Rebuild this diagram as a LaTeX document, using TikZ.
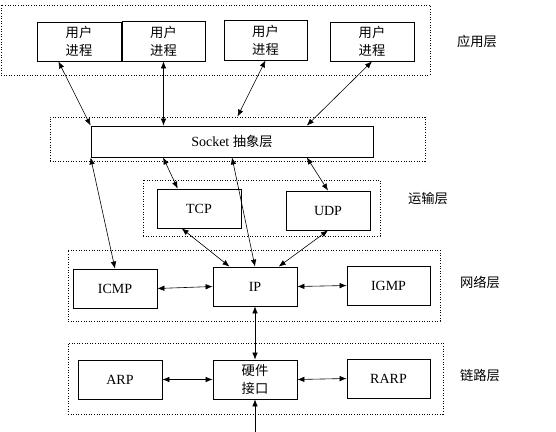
\documentclass[tikz,border=0pt]{standalone}
\usepackage{fontspec}
\setmainfont{Liberation Serif}
\newfontfamily\cjk[Scale=0.95]{Noto Sans CJK SC}
\usepackage{tikz}
\usetikzlibrary{positioning,arrows.meta,calc}

\begin{document}
\begin{tikzpicture}[
  x=1pt, y=-1pt,
  font=\fontsize{14}{18}\selectfont,
  box/.style={draw, line width=0.8pt, minimum width=84pt, minimum height=39pt, inner sep=1pt, align=center},
  layer/.style={draw, line width=0.8pt, dash pattern=on 1pt off 1.6pt},
  arr/.style={{Latex[length=7pt,width=5.5pt]}-{Latex[length=7pt,width=5.5pt]}, line width=0.6pt},
]
\useasboundingbox (0,0) rectangle (556,431);
% layer frames
\node[layer, minimum width=429pt, minimum height=70pt] (applayer) at (215.5,40) {};
\node[layer, minimum width=375pt, minimum height=44pt] (socklayer) at (237.5,139) {};
\node[layer, minimum width=237pt, minimum height=56pt] (translayer) at (261.5,208) {};
\node[layer, minimum width=372pt, minimum height=71pt] (netlayer) at (254,285.5) {};
\node[layer, minimum width=375pt, minimum height=71pt] (linklayer) at (255.5,378.5) {};
% layer names
\node (appname) at (477,41) {\cjk 应用层};
\node (transname) at (428,198) {\cjk 运输层};
\node (netname) at (480,282) {\cjk 网络层};
\node (linkname) at (480,375) {\cjk 链路层};
% user processes
\node[box] (up1) at (79,41.5) {\cjk 用户\\\cjk 进程};
\node[box, minimum width=83pt, minimum height=40pt] (up2) at (163.5,41) {\cjk 用户\\\cjk 进程};
\node[box, minimum width=83pt, minimum height=40pt] (up3) at (265.5,40) {\cjk 用户\\\cjk 进程};
\node[box] (up4) at (372,41.5) {\cjk 用户\\\cjk 进程};
% socket
\node[box, minimum width=282pt, minimum height=31pt] (socket) at (232,141.5) {Socket {\cjk 抽象层}};
% transport
\node[box] (tcp) at (199,208.5) {TCP};
\node[box] (udp) at (328,210.5) {UDP};
% network
\node[box] (icmp) at (115,288.5) {ICMP};
\node[box] (ip) at (255,286.5) {IP};
\node[box, minimum width=83pt] (igmp) at (388.5,285.5) {IGMP};
% link
\node[box] (arp) at (120,379.5) {ARP};
\node[box] (hw) at (255,379.5) {\cjk 硬件\\\cjk 接口};
\node[box, minimum width=83pt] (rarp) at (388.5,378.5) {RARP};
\coordinate (wire) at (255,433);
% connectors
\draw[arr] (socket.north west) -- (up1.-136);
\draw[arr] (up2.south |- socket.north) -- (up2.south);
\draw[arr] (socklayer.north) -- (up3.south);
\draw[arr] (socket.12) -- (up4.south);
\draw[arr] (socket.south west) -- (icmp.north);
\draw[arr] (socket.-167.5) -- (tcp.137);
\draw[arr] (socket.south) -- (ip.north);
\draw[arr] (socket.-12) -- (udp.north);
\draw[arr] (tcp.-131) -- (ip.142);
\draw[arr] (udp.south) -- (ip.40);
\draw[arr] (icmp.east) -- (ip.west);
\draw[arr] (ip.east) -- (igmp.west);
\draw[arr] (ip.south) -- (hw.north);
\draw[arr] (arp.east) -- (hw.west);
\draw[arr] (hw.east) -- (rarp.west);
\draw[{Latex[length=7pt,width=5.5pt]}-, line width=0.6pt] (hw.south) -- (wire);
\end{tikzpicture}
\end{document}
